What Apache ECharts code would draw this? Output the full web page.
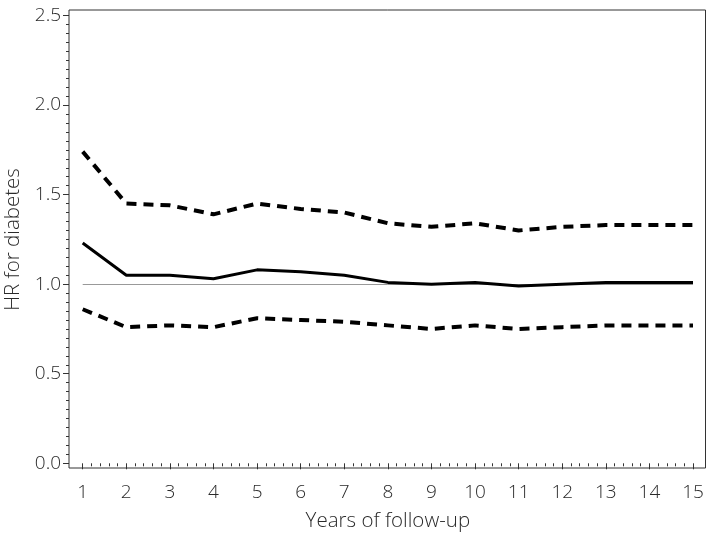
<!DOCTYPE html>
<html>
<head>
<meta charset="utf-8">
<script src="https://cdn.jsdelivr.net/npm/echarts@6/dist/echarts.min.js"></script>
<style>html,body{margin:0;padding:0;background:#fff}#c{width:709px;height:538px}</style>
</head>
<body>
<div id="c"></div>
<script>
var years = [1,2,3,4,5,6,7,8,9,10,11,12,13,14,15];
var hr    = [1.23,1.05,1.05,1.03,1.08,1.07,1.05,1.01,1.00,1.01,0.99,1.00,1.01,1.01,1.01];
var upper = [1.74,1.45,1.44,1.39,1.45,1.42,1.40,1.34,1.32,1.34,1.30,1.32,1.33,1.33,1.33];
var lower = [0.86,0.76,0.77,0.76,0.81,0.80,0.79,0.77,0.75,0.77,0.75,0.76,0.77,0.77,0.77];
var refValue = 1.0;
var yTicks = [0, 2.5, 0.5];
var xTitle = 'Years of follow-up';
var yTitle = 'HR for diabetes';

function pairs(vals){ return years.map(function(y,i){ return [y, vals[i]]; }); }

var font = "'Open Sans', 'DejaVu Sans', sans-serif";
var txt = '#2a2a2a';
var chart = echarts.init(document.getElementById('c'), null, {renderer:'canvas'});
chart.setOption({
  animation: false,
  backgroundColor: '#fff',
  grid: [
    {left: 82.7, right: 16, top: 15.5, bottom: 74.7, containLabel: false, outerBoundsMode: 'none'},
    {left: 69, right: 3.5, top: 10, bottom: 70, containLabel: false, outerBoundsMode: 'none',
     show: true, borderColor: '#333', borderWidth: 1, backgroundColor: 'transparent', z: 1}
  ],
  xAxis: [
    {gridIndex: 0, type: 'value', min: years[0], max: years[years.length-1], interval: 1, offset: 4.7,
     axisLine: {show: false},
     axisTick: {show: true, length: 6, lineStyle: {color: '#333', width: 1}},
     minorTick: {show: true, splitNumber: 5, length: 3, lineStyle: {color: '#333', width: 1}},
     axisLabel: {fontFamily: font, fontSize: 19, fontWeight: 300, color: txt, margin: 15},
     splitLine: {show: false},
     name: xTitle, nameLocation: 'middle', nameGap: 43,
     nameTextStyle: {fontFamily: font, fontSize: 20.5, fontWeight: 300, color: txt}},
    {gridIndex: 1, type: 'value', min: 0, max: 1, show: false}
  ],
  yAxis: [
    {gridIndex: 0, type: 'value', min: yTicks[0], max: yTicks[1], interval: yTicks[2], offset: 13.7,
     axisLine: {show: false},
     axisTick: {show: true, length: 6, lineStyle: {color: '#333', width: 1}},
     minorTick: {show: true, splitNumber: 10, length: 3, lineStyle: {color: '#333', width: 1}},
     axisLabel: {fontFamily: font, fontSize: 19, fontWeight: 300, color: txt, margin: 8,
                 formatter: function(v){ return v.toFixed(1); }},
     splitLine: {show: false},
     name: yTitle, nameLocation: 'middle', nameGap: 40, nameRotate: 90,
     nameTextStyle: {fontFamily: font, fontSize: 20.5, fontWeight: 300, color: txt}},
    {gridIndex: 1, type: 'value', min: 0, max: 1, show: false}
  ],
  series: [
    {type: 'line', xAxisIndex: 0, yAxisIndex: 0, data: pairs(upper), symbol: 'none',
     lineStyle: {color: '#000', width: 4, type: [10, 7]}, z: 3},
    {type: 'line', xAxisIndex: 0, yAxisIndex: 0, data: pairs(lower), symbol: 'none',
     lineStyle: {color: '#000', width: 4, type: [10, 7]}, z: 3},
    {type: 'line', xAxisIndex: 0, yAxisIndex: 0, data: pairs(hr), symbol: 'none',
     lineStyle: {color: '#000', width: 3}, z: 4,
     markLine: {silent: true, symbol: 'none', label: {show: false},
                lineStyle: {color: '#999', width: 1, type: 'solid'},
                data: [{yAxis: refValue}], z: 2}}
  ]
});
</script>
</body>
</html>
